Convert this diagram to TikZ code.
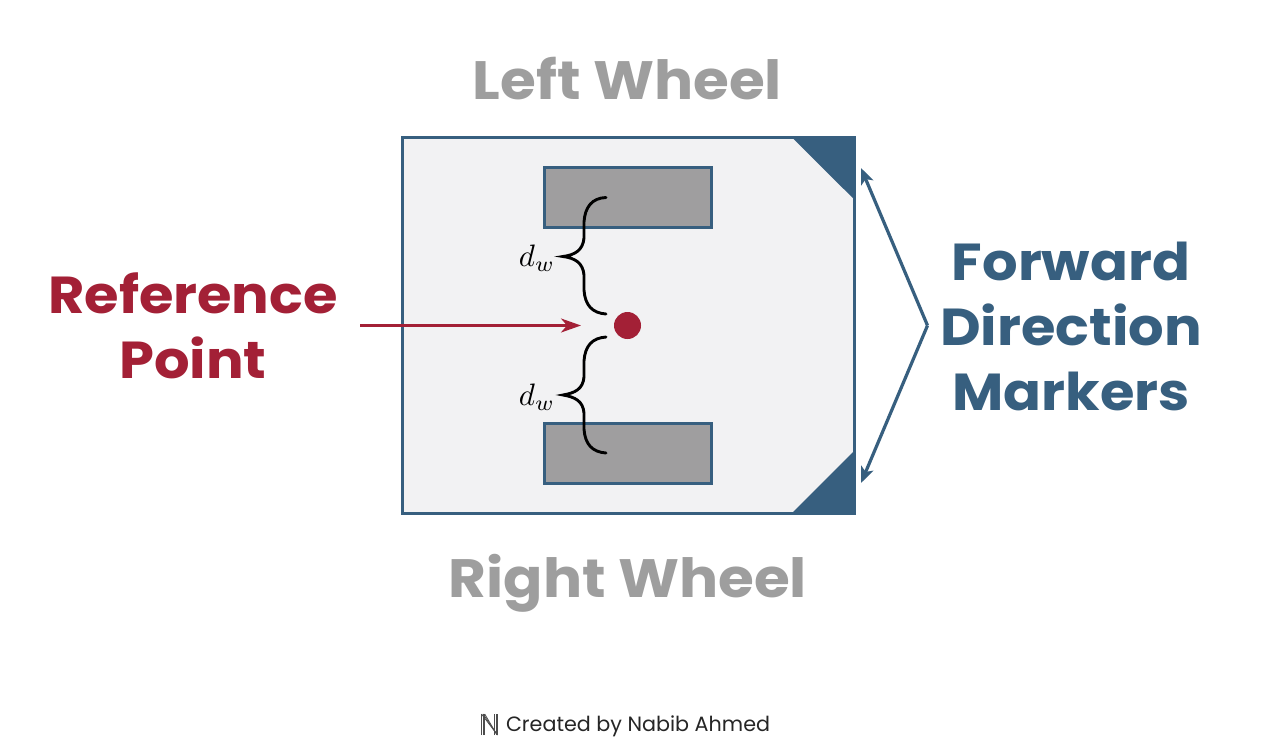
\documentclass[tikz,border=0pt]{standalone}
\usepackage{fontspec}
\setmainfont{Poppins}
\newfontfamily\widefont[FakeStretch=1.075,BoldFont={Poppins Bold}]{Poppins}
\usetikzlibrary{arrows.meta}
\definecolor{navy}{HTML}{375F7F}
\definecolor{crimson}{HTML}{A32036}
\definecolor{greytxt}{HTML}{9E9E9E}
\definecolor{wheelfill}{HTML}{9F9E9F}
\definecolor{bodyfill}{HTML}{F2F2F3}
\tikzset{
  every node/.style={inner sep=0pt,outer sep=0pt,align=center},
  bigtext/.style={font=\widefont\fontsize{52}{65}\selectfont\bfseries},
  wheeltext/.style={font=\widefont\fontsize{54}{65}\selectfont\bfseries,text=greytxt,anchor=base},
  wheelbox/.style={draw=navy,line width=3pt,fill=wheelfill},
  brace/.style={draw=black,line width=2.9pt,line cap=round},
  tiplabel/.style={scale=3.1,text=black},
  navyarrow/.style={draw=navy,line width=3.2pt,-{Stealth[length=16pt,width=13pt,inset=4pt]}},
  redarrow/.style={draw=crimson,line width=2.6pt,-{Stealth[length=20pt,width=14pt,inset=6pt]}},
  icon/.style={draw=black!70,line width=.8pt}
}
\begin{document}
\begin{tikzpicture}[x=1pt,y=-1pt]
\useasboundingbox (0,0) rectangle (1264,750);
\fill[white] (0,0) rectangle (1264,750);
% body
\draw[draw=navy,line width=3pt,fill=bodyfill] (402,137.5) rectangle (854,513);
% markers
\fill[navy] (790.5,136) -- (855.5,136) -- (855.5,200.7) -- cycle;
\fill[navy] (790.5,514.5) -- (855.5,514.5) -- (855.5,449.5) -- cycle;
% wheels
\node[wheelbox,minimum width=167pt,minimum height=60pt] (lw) at (628,197) {};
\node[wheelbox,minimum width=167pt,minimum height=60pt] (rw) at (628,453) {};
% braces
\draw[brace] (606,197.5) .. controls (592,198) and (585,207) .. (584,222)
  -- (584,238) .. controls (583,250) and (575,255) .. (563,256.5)
  .. controls (575,258) and (583,263) .. (584,275)
  -- (584,290) .. controls (585,305) and (592,313) .. (606,314);
\draw[brace] (606,337) .. controls (592,338) and (585,346) .. (584,361)
  -- (584,377) .. controls (583,389) and (575,393) .. (563,395)
  .. controls (575,397) and (583,401) .. (584,413)
  -- (584,429) .. controls (585,444) and (592,452) .. (606,453);
\node[tiplabel] (d1) at (537,258) {$d_w$};
\node[tiplabel] (d2) at (537,397) {$d_w$};
% reference point
\node[circle,fill=crimson,minimum size=27pt] (refpt) at (627.5,325.5) {};
\coordinate (arrowstart) at (360,325.5);
\coordinate (arrowend) at (581,325.5);
\draw[redarrow] (arrowstart) -- (arrowend);
% forward arrows
\coordinate (apex) at (927.5,325.5);
\coordinate (fronttop) at (861,168);
\coordinate (frontbot) at (861,483);
\draw[navyarrow] (apex) -- (fronttop);
\draw[navyarrow] (apex) -- (frontbot);
% labels
\node[wheeltext] (leftlabel) at (627.5,99.5) {Left Wheel};
\node[wheeltext] (rightlabel) at (628,597.5) {Right Wheel};
\node[bigtext,text=crimson] (reflabel) at (193,326) {Reference\\Point};
\node[bigtext,text=navy] (fwdlabel) at (1071,326.5) {Forward\\Direction\\Markers};
% credit
\node[font=\fontsize{20.7}{20.7}\selectfont,text=black!85,anchor=west] (credit) at (506,726) {Created by Nabib Ahmed};
\foreach \d in {0,1.6,3.2}{
  \draw[icon] (481.5+\d,735) -- (481.5+\d,714);
  \draw[icon] (497.5-\d,735) -- (497.5-\d,714);
  \draw[icon] (481.5+\d,714) -- (497.5-\d*0.3,735-\d*0.3);
}
\end{tikzpicture}
\end{document}
